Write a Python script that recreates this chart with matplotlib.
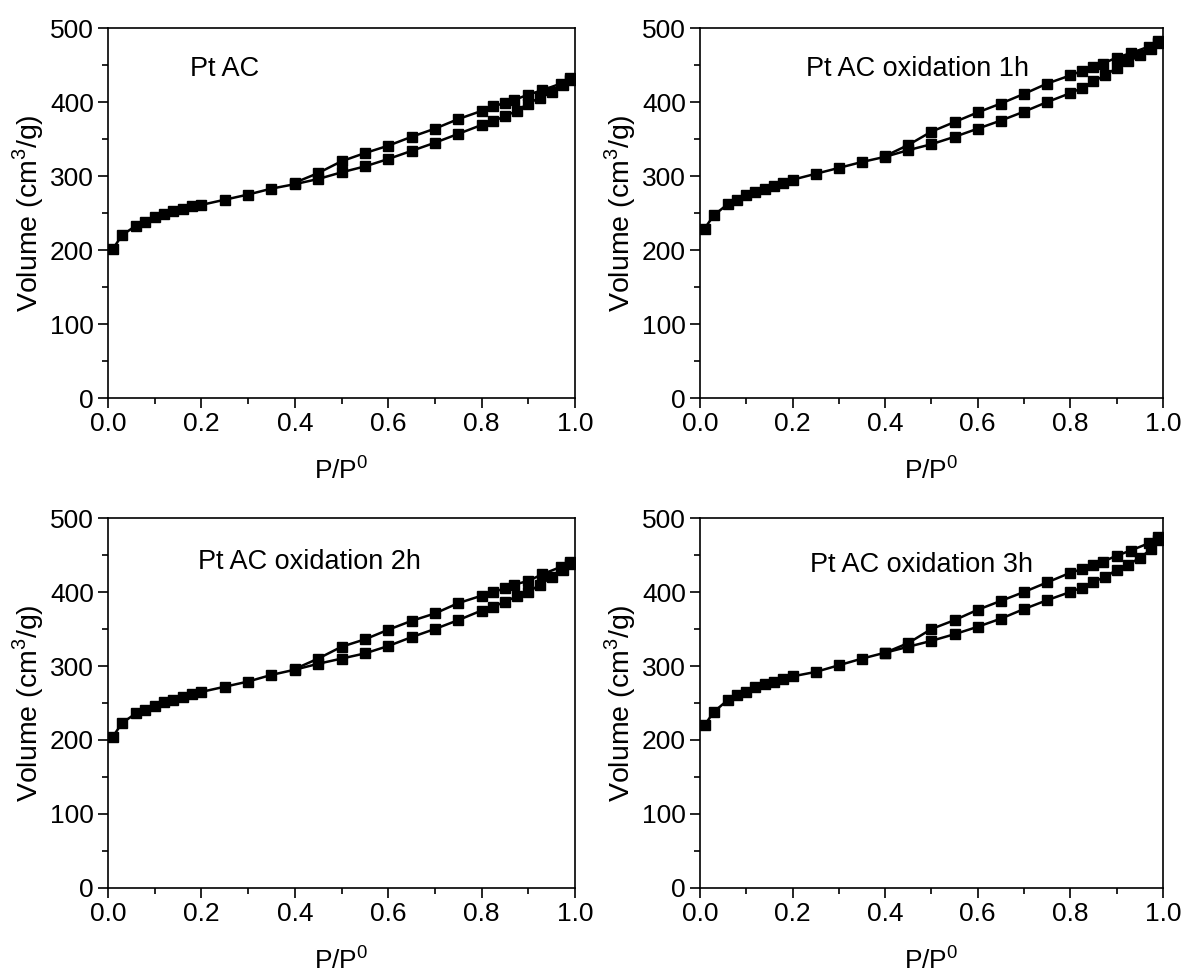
import numpy as np
import matplotlib
matplotlib.use("Agg")
import matplotlib.pyplot as plt
from matplotlib.ticker import MultipleLocator

plt.rcParams['font.family'] = ['Liberation Sans', 'DejaVu Sans']
plt.rcParams['mathtext.fontset'] = 'custom'
plt.rcParams['mathtext.rm'] = 'Liberation Sans'

# relative pressure, adsorption branch (same grid for every sample)
P_ADS = [0.01, 0.03, 0.06, 0.08, 0.10, 0.12, 0.14, 0.16, 0.18, 0.20, 0.25, 0.30,
         0.35, 0.40, 0.45, 0.50, 0.55, 0.60, 0.65, 0.70, 0.75, 0.80, 0.825, 0.85,
         0.875, 0.90, 0.925, 0.95, 0.975, 0.99]
# desorption branch
P_DES = [0.99, 0.97, 0.93, 0.90, 0.87, 0.85, 0.825, 0.80, 0.75, 0.70, 0.65, 0.60,
         0.55, 0.50, 0.45, 0.40]

labels = ['Pt AC', 'Pt AC oxidation 1h', 'Pt AC oxidation 2h', 'Pt AC oxidation 3h']

ads_ac = [201, 220, 233, 238, 244, 249, 253, 256, 259, 261, 268, 275, 283, 289,
          296, 305, 313, 323, 334, 345, 357, 369, 374, 381, 388, 398, 406, 414, 423, 430]
des_ac = [432, 425, 416, 410, 403, 399, 394, 388, 377, 364, 353, 341, 331, 320, 304, 291]

ads_1h = [229, 247, 262, 268, 275, 279, 283, 287, 291, 295, 303, 311, 319, 326,
          335, 343, 353, 364, 375, 387, 400, 412, 419, 428, 436, 446, 455, 463, 472, 480]
des_1h = [483, 475, 466, 460, 452, 448, 442, 436, 425, 411, 398, 386, 373, 360, 342, 327]

ads_2h = [204, 223, 236, 241, 246, 251, 254, 258, 262, 265, 272, 279, 288, 295,
          303, 310, 317, 327, 339, 350, 362, 375, 380, 387, 394, 400, 410, 420, 430, 438]
des_2h = [440, 434, 424, 415, 410, 405, 400, 395, 385, 371, 361, 349, 336, 326, 310, 296]

ads_3h = [220, 238, 254, 261, 265, 271, 276, 279, 283, 286, 292, 301, 310, 318,
          326, 334, 343, 353, 364, 377, 389, 400, 406, 414, 420, 430, 437, 446, 458, 470]
des_3h = [475, 466, 456, 449, 441, 437, 431, 426, 413, 400, 388, 376, 362, 350, 331, 318]

ads_all = [ads_ac, ads_1h, ads_2h, ads_3h]
des_all = [des_ac, des_1h, des_2h, des_3h]

fig = plt.figure(figsize=(11.92, 9.77), dpi=100)

boxes = [
    [0.0906, 0.5926, 0.3918, 0.3787],
    [0.5872, 0.5926, 0.3884, 0.3787],
    [0.0906, 0.0911, 0.3918, 0.3787],
    [0.5872, 0.0911, 0.3884, 0.3787],
]
label_pos = [(0.176, 0.89), (0.230, 0.889), (0.193, 0.881), (0.238, 0.873)]

for i in range(4):
    ax = fig.add_axes(boxes[i])
    for p, v in ((P_ADS, ads_all[i]), (P_DES, des_all[i])):
        ax.plot(p, v, '-', color='black', lw=1.8, marker='s', ms=7,
                markerfacecolor='black', markeredgecolor='black')
    ax.set_xlim(0, 1.0)
    ax.set_ylim(0, 500)
    ax.xaxis.set_major_locator(MultipleLocator(0.2))
    ax.xaxis.set_minor_locator(MultipleLocator(0.1))
    ax.yaxis.set_major_locator(MultipleLocator(100))
    ax.yaxis.set_minor_locator(MultipleLocator(50))
    ax.tick_params(which='both', direction='out', top=False, right=False,
                   width=1.2, labelsize=19, pad=3)
    ax.tick_params(which='major', length=7)
    ax.tick_params(which='minor', length=4.5)
    ax.xaxis.set_major_formatter(plt.FormatStrFormatter('%.1f'))
    for s in ax.spines.values():
        s.set_linewidth(1.2)
    ax.set_xlabel(r'P/P$^0$', fontsize=19, labelpad=14)
    ax.set_ylabel(r'Volume (cm$^3$/g)', fontsize=20.5, labelpad=3)
    ax.text(label_pos[i][0], label_pos[i][1], labels[i], transform=ax.transAxes,
            fontsize=19.5, ha='left', va='center')

fig.savefig('out.png', dpi=100)
